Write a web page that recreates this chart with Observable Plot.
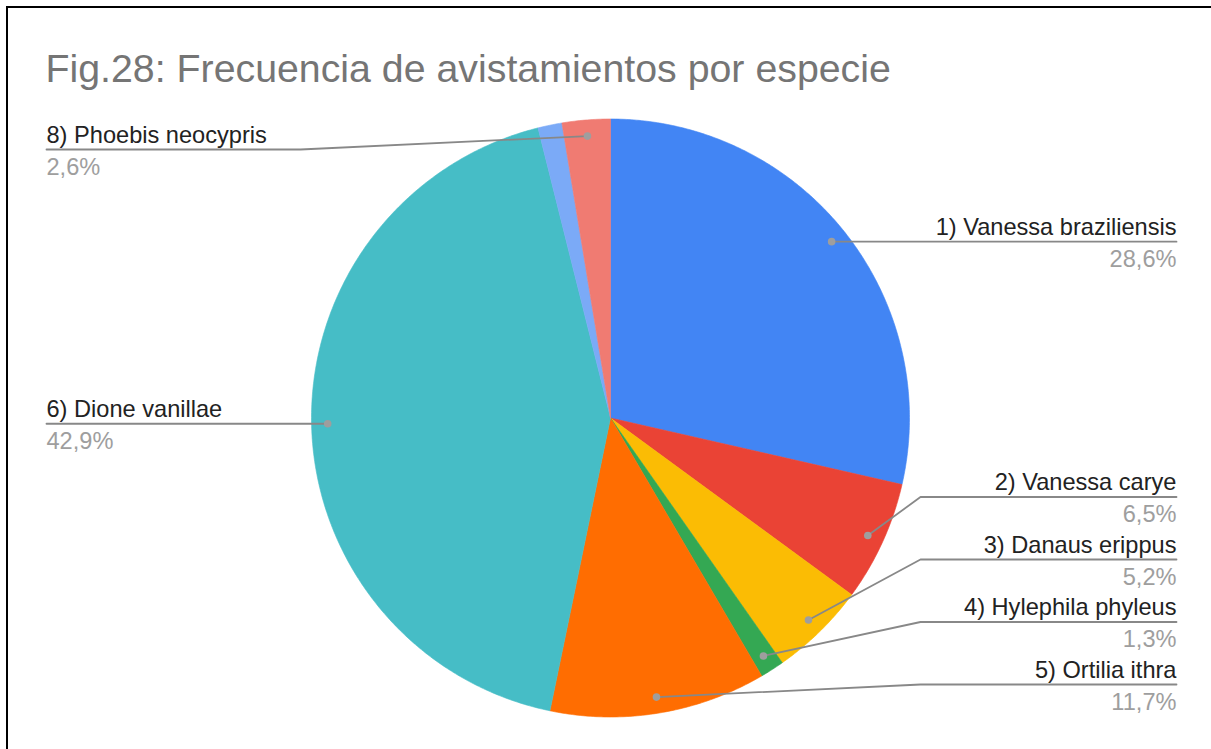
<!DOCTYPE html>
<html>
<head>
<meta charset="utf-8">
<script src="https://cdn.jsdelivr.net/npm/d3@7"></script>
<script src="https://cdn.jsdelivr.net/npm/@observablehq/plot@0.6"></script>
<style>
  html, body { margin: 0; padding: 0; background: #fff; }
  #wrap { position: relative; width: 1211px; height: 749px; overflow: hidden; }
  #frame { position: absolute; left: 6px; top: 6px; width: 1210px; height: 750px;
           border-top: 2px solid #000; border-left: 2px solid #000; pointer-events: none; }
  svg { font-family: "Liberation Sans", Arial, sans-serif; }
</style>
</head>
<body>
<div id="wrap"><div id="frame"></div></div>
<script>
// ---- data ----
const title = "Fig.28: Frecuencia de avistamientos por especie";
const species = [
  "1) Vanessa braziliensis",
  "2) Vanessa carye",
  "3) Danaus erippus",
  "4) Hylephila phyleus",
  "5) Ortilia ithra",
  "6) Dione vanillae",
  "7) Especie 7",
  "8) Phoebis neocypris"
];
const counts = [22, 5, 4, 1, 9, 33, 1, 2];
const showLabel = [true, true, true, true, true, true, false, true];
const colors = ["#4285f4", "#ea4335", "#fbbc04", "#34a853", "#ff6d01", "#46bdc6", "#7baaf7", "#f07b72"];

// ---- layout constants ----
const W = 1211, H = 749;
const cx = 610, cy = 417.5, R = 299;
const dotR = 0.946 * R;
const rightElbow = 920, rightEnd = 1176, leftElbow = 300, leftEnd = 46;
const spacing = 62.5, rightMaxY = 684, leftMinY = 149;
const labelSize = 23.6, titleSize = 39.3;

const total = d3.sum(counts);
const fmt = v => (v * 100).toFixed(1).replace(".", ",") + "%";

// slices
let cum = 0;
const slices = species.map((name, i) => {
  const a0 = cum / total * 2 * Math.PI;
  cum += counts[i];
  const a1 = cum / total * 2 * Math.PI;
  return {name, i, a0, a1, mid: (a0 + a1) / 2, pct: fmt(counts[i] / total)};
});
const pt = (a, r) => [cx + r * Math.sin(a), cy - r * Math.cos(a)];

const polyPts = [];
for (const s of slices) {
  const n = Math.max(2, Math.ceil((s.a1 - s.a0) / (Math.PI / 360)));
  polyPts.push({name: s.name, x: cx, y: cy});
  for (let k = 0; k <= n; k++) {
    const [x, y] = pt(s.a0 + (s.a1 - s.a0) * k / n, R);
    polyPts.push({name: s.name, x, y});
  }
  polyPts.push({name: s.name, x: cx, y: cy});
}

// label layout
const labeled = slices.filter(s => showLabel[s.i]).map(s => {
  const [dx, dy] = pt(s.mid, dotR);
  return {...s, dx, dy, side: dx >= cx ? "right" : "left"};
});
const right = labeled.filter(d => d.side === "right").sort((a, b) => b.dy - a.dy);
let prev = Infinity;
for (const d of right) { d.ly = Math.min(d.dy, prev - spacing, rightMaxY); prev = d.ly; }
const left = labeled.filter(d => d.side === "left").sort((a, b) => a.dy - b.dy);
prev = -Infinity;
for (const d of left) { d.ly = Math.max(d.dy, prev + spacing, leftMinY); prev = d.ly; }

const leaderPts = [];
for (const d of labeled) {
  const elbow = d.side === "right" ? rightElbow : leftElbow;
  const end = d.side === "right" ? rightEnd : leftEnd;
  leaderPts.push({name: d.name, x: d.dx, y: d.dy});
  leaderPts.push({name: d.name, x: elbow, y: d.ly});
  leaderPts.push({name: d.name, x: end, y: d.ly});
}
const labelRows = labeled.map(d => ({
  name: d.name, pct: d.pct,
  x: d.side === "right" ? rightEnd : leftEnd,
  anchor: d.side === "right" ? "end" : "start",
  ly: d.ly
}));

const chart = Plot.plot({
  width: W, height: H,
  margin: 0,
  x: {domain: [0, W], range: [0, W], axis: null},
  y: {domain: [0, H], range: [0, H], axis: null},
  color: {domain: species, range: colors},
  style: {fontFamily: '"Liberation Sans", Arial, sans-serif', background: "transparent"},
  marks: [
    Plot.line(polyPts, {x: "x", y: "y", z: "name", fill: "name", stroke: "name", strokeWidth: 0.6, curve: "linear"}),
    Plot.line(leaderPts, {x: "x", y: "y", z: "name", stroke: "#888888", strokeWidth: 1.8, curve: "linear"}),
    Plot.dot(labeled, {x: "dx", y: "dy", r: 3.8, fill: "#9e9e9e", stroke: null}),
    Plot.text(labelRows.filter(d => d.anchor === "end"), {x: "x", y: d => d.ly - 7, text: "name", textAnchor: "end", lineAnchor: "bottom", fontSize: labelSize, fill: "#222222"}),
    Plot.text(labelRows.filter(d => d.anchor === "start"), {x: "x", y: d => d.ly - 7, text: "name", textAnchor: "start", lineAnchor: "bottom", fontSize: labelSize, fill: "#222222"}),
    Plot.text(labelRows.filter(d => d.anchor === "end"), {x: "x", y: d => d.ly + 25, text: "pct", textAnchor: "end", lineAnchor: "bottom", fontSize: labelSize, fill: "#9e9e9e"}),
    Plot.text(labelRows.filter(d => d.anchor === "start"), {x: "x", y: d => d.ly + 25, text: "pct", textAnchor: "start", lineAnchor: "bottom", fontSize: labelSize, fill: "#9e9e9e"}),
    Plot.text([title], {x: () => 45, y: () => 81, text: d => d, textAnchor: "start", lineAnchor: "bottom", fontSize: titleSize, fill: "#757575"})
  ]
});
chart.style.position = "absolute";
chart.style.left = "0px";
chart.style.top = "0px";
document.getElementById("wrap").insertBefore(chart, document.getElementById("frame"));
</script>
</body>
</html>
